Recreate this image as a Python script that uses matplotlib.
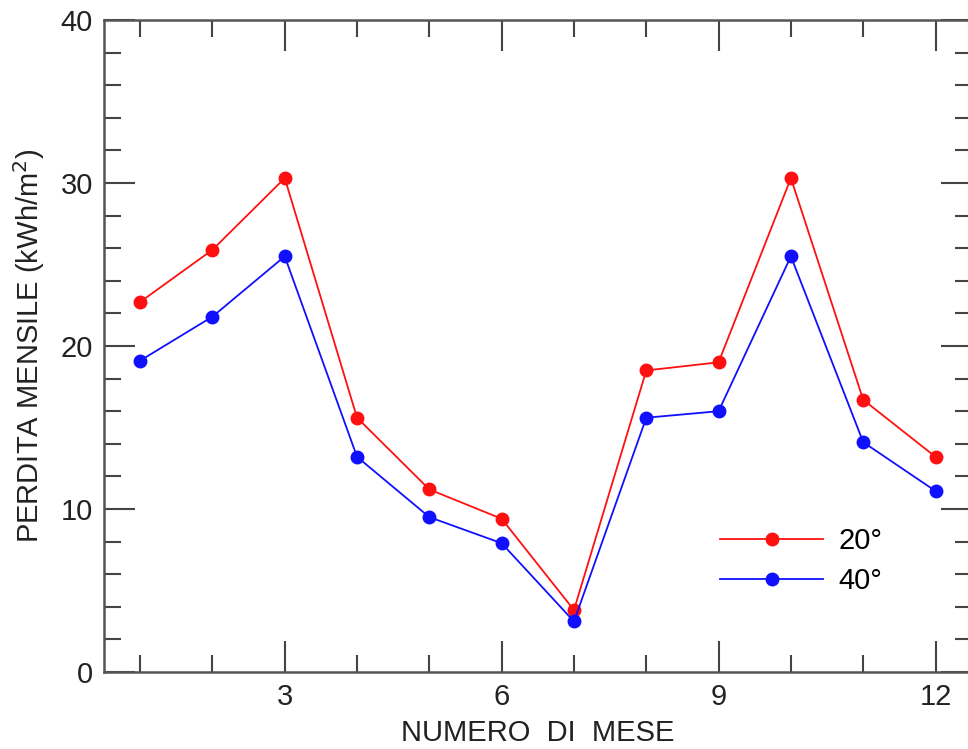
import matplotlib.pyplot as plt
from matplotlib.ticker import MultipleLocator

# data
months = [1, 2, 3, 4, 5, 6, 7, 8, 9, 10, 11, 12]
loss_20 = [22.7, 25.9, 30.3, 15.6, 11.2, 9.4, 3.8, 18.5, 19.0, 30.3, 16.7, 13.2]
loss_40 = [19.1, 21.8, 25.5, 13.2, 9.5, 7.9, 3.1, 15.6, 16.0, 25.5, 14.1, 11.1]
series_labels = ['20°', '40°']

plt.rcParams['font.family'] = ['Liberation Sans', 'DejaVu Sans']

fig = plt.figure(figsize=(9.68, 7.49), dpi=100)
ax = fig.add_axes([0.1074, 0.1028, 0.8964, 0.8705])

ax.plot(months, loss_20, color='#ff1010', lw=1.3, marker='o', ms=9, label=series_labels[0])
ax.plot(months, loss_40, color='#1010ff', lw=1.3, marker='o', ms=9, label=series_labels[1])

ax.set_xlim(0.5, 12.5)
ax.set_ylim(0, 40)
ax.xaxis.set_major_locator(MultipleLocator(3))
ax.xaxis.set_minor_locator(MultipleLocator(1))
ax.yaxis.set_major_locator(MultipleLocator(10))
ax.yaxis.set_minor_locator(MultipleLocator(2))

ax.tick_params(which='both', direction='in', top=True, right=True,
               color='#444444', width=1.5, labelsize=21, labelcolor='#222222')
ax.tick_params(which='major', length=22, pad=8)
ax.tick_params(which='minor', length=12)
for s in ax.spines.values():
    s.set_color('#555555')
    s.set_linewidth(1.8)

ax.set_xlabel('NUMERO  DI  MESE', fontsize=21, color='#222222', labelpad=6)
ax.set_ylabel('PERDITA MENSILE (kWh/m$^2$)', fontsize=21, color='#222222', labelpad=10)

ax.legend(loc='upper left', bbox_to_anchor=(0.7105, 0.222), frameon=False,
          borderaxespad=0, borderpad=0,
          fontsize=21, handlelength=3.5, labelspacing=0.4, handletextpad=0.55)

fig.savefig('out.png', dpi=100)
